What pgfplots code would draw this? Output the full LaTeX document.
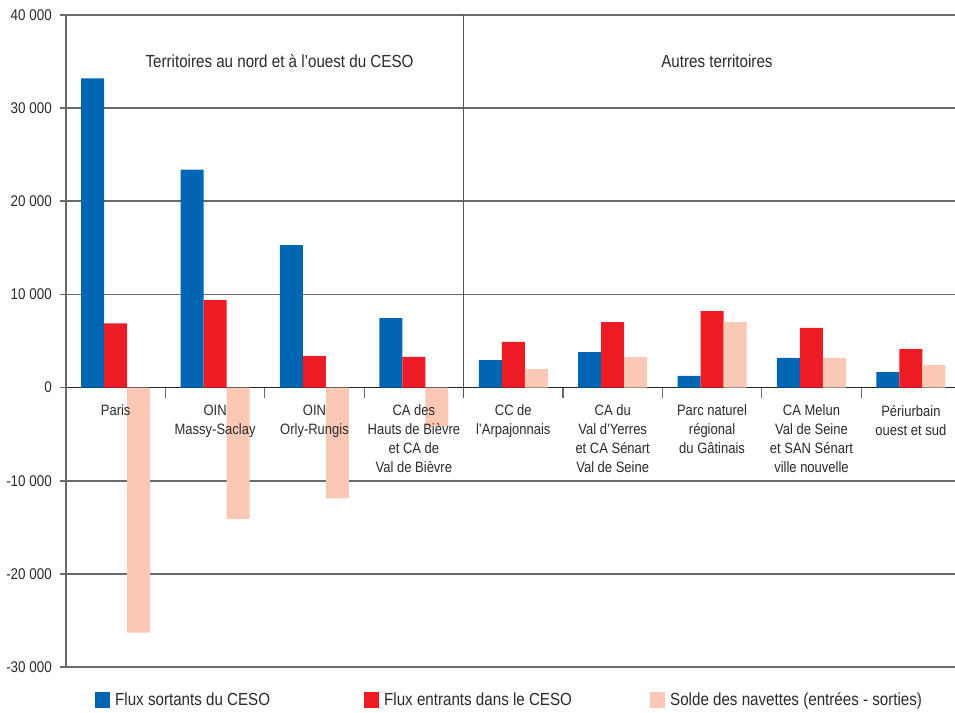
\documentclass[border=0pt]{standalone}
\usepackage{fontspec}
\setmainfont{Liberation Sans}[FakeStretch=0.866]
\usepackage{pgfplots}
\pgfplotsset{compat=1.18}
\definecolor{cblue}{HTML}{0066B3}
\definecolor{cred}{HTML}{ED1C24}
\definecolor{cpink}{HTML}{FAC8B4}
\definecolor{cgrid}{HTML}{6A6A6A}
\definecolor{ctext}{HTML}{2A2A2A}
\pgfplotsset{
  sq/.style={legend image code/.code={\fill[##1] (0bp,-7.5bp) rectangle (15bp,7.5bp);}},
}
\tikzset{
  catlab/.style={anchor=north, align=center, font=\fontsize{15bp}{19bp}\selectfont, text=ctext, yshift=-14bp},
  grplab/.style={font=\fontsize{17.5bp}{21bp}\selectfont, text=ctext},
}
\begin{document}
\begin{tikzpicture}
\begin{axis}[
  scale only axis, width=889bp, height=652bp,
  xmin=-0.5, xmax=8.444, ymin=-30000, ymax=40000,
  ybar=0pt, bar width=23bp,
  axis y line*=left, axis x line*=middle,
  y axis line style={cgrid, line width=1.3bp},
  x axis line style={black!85, line width=1.5bp},
  hide obscured x ticks=false, hide obscured y ticks=false,
  tick align=outside, major tick length=6bp,
  ytick={-30000,-20000,-10000,0,10000,20000,30000,40000},
  yticklabels={-30 000,-20 000,-10 000,0,10 000,20 000,30 000,40 000},
  ymajorgrids, grid style={cgrid, line width=1.7bp},
  ytick style={cgrid, line width=1.7bp},
  yticklabel style={font=\fontsize{15.5bp}{18bp}\selectfont, text=ctext, inner sep=2bp, xshift=-6bp},
  xtick=\empty,
  legend style={at={(0,0)}, anchor=west, xshift=26bp, yshift=-33bp, draw=none, fill=none,
    legend columns=-1, font=\fontsize{17.5bp}{21bp}\selectfont, text=ctext, nodes={inner sep=0bp},
    /tikz/every odd column/.append style={column sep=5bp}},
]
\addplot[fill=cblue, draw=none, sq] coordinates {(0,33200) (1,23400) (2,15300) (3,7450) (4,2950) (5,3800) (6,1250) (7,3180) (8,1670)};
\addplot[fill=cred, draw=none, sq] coordinates {(0,6900) (1,9400) (2,3400) (3,3300) (4,4900) (5,7030) (6,8220) (7,6400) (8,4140)};
\addplot[fill=cpink, draw=none, sq] coordinates {(0,-26300) (1,-14100) (2,-11900) (3,-4200) (4,2000) (5,3280) (6,7030) (7,3180) (8,2430)};
\legend{\makebox[249bp][l]{Flux sortants du CESO}, \makebox[266bp][l]{Flux entrants dans le CESO}, Solde des navettes (entrées - sorties)}
\draw[cgrid!80!black, line width=1.3bp] (axis cs:3.5,40000) -- (axis cs:3.5,0) -- ++(0pt,-10bp);
\pgfplotsinvokeforeach{0.5,1.5,2.5,4.5,5.5,6.5,7.5}{\draw[cgrid, line width=1.3bp] (axis cs:#1,0) -- ++(0pt,-10bp);}
% category names
\node[catlab] at (axis cs:0,0) {Paris};
\node[catlab] at (axis cs:1,0) {OIN\\Massy-Saclay};
\node[catlab] at (axis cs:2,0) {OIN\\Orly-Rungis};
\node[catlab] at (axis cs:3,0) {CA des\\Hauts de Bièvre\\et CA de\\Val de Bièvre};
\node[catlab] at (axis cs:4,0) {CC de\\l'Arpajonnais};
\node[catlab] at (axis cs:5,0) {CA du\\Val d'Yerres\\et CA Sénart\\Val de Seine};
\node[catlab] at (axis cs:6,0) {Parc naturel\\régional\\du Gâtinais};
\node[catlab] at (axis cs:7,0) {CA Melun\\Val de Seine\\et SAN Sénart\\ville nouvelle};
\node[catlab] at (axis cs:8,0) {Périurbain\\ouest et sud};
\node[grplab] at (axis cs:1.648,35070) {Territoires au nord et à l'ouest du CESO};
\node[grplab] at (axis cs:6.049,35070) {Autres territoires};
\end{axis}
\pgfresetboundingbox
\useasboundingbox (-66bp,-46bp) rectangle (889bp,667bp);
\end{tikzpicture}
\end{document}
